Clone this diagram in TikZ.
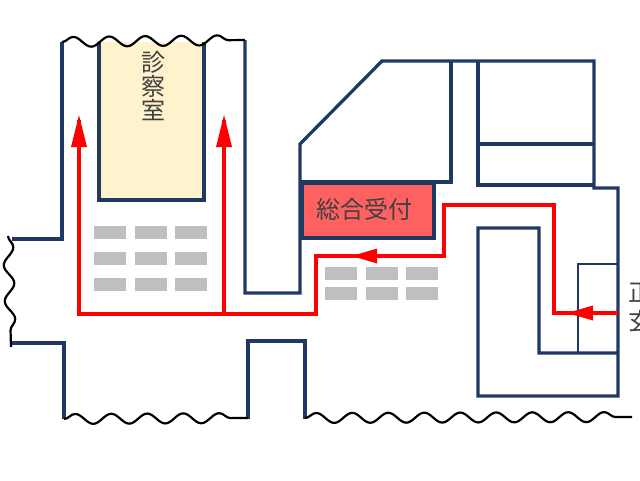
\documentclass[tikz,border=0pt]{standalone}
\usepackage{fontspec}
\newfontfamily\cjk{Noto Sans CJK JP}
\usepackage{xcolor}
\usetikzlibrary{matrix,decorations.pathmorphing,positioning}
\definecolor{wallblue}{HTML}{1F3864}
\definecolor{roomcream}{HTML}{FFF2CC}
\definecolor{deskred}{HTML}{FF6161}
\definecolor{seatgray}{HTML}{BFBFBF}
\definecolor{labelgray}{HTML}{404040}
\tikzset{
    wallsty/.style={draw=wallblue,line width=3.3pt,line join=miter},
    thinwallsty/.style={draw=wallblue,line width=1.6pt},
    wavesty/.style={draw=black,line width=2.2pt,decorate,decoration={snake,segment length=36pt,amplitude=5pt}},
    routesty/.style={draw=red,line width=3.3pt},
    seatsty/.style={fill=seatgray,rectangle,minimum width=32pt,minimum height=13pt,inner sep=0pt,outer sep=0pt},
    labelsty/.style={font=\cjk\fontsize{24pt}{24pt}\selectfont,text=labelgray,inner sep=0pt},
}
\begin{document}
\begin{tikzpicture}[x=1pt,y=-1pt]
\useasboundingbox (0,0) rectangle (640,480);
\clip (0,0) rectangle (640,480);

% rooms
\node (exam) [fill=roomcream,rectangle,anchor=north west,minimum width=105pt,minimum height=158pt,outer sep=0pt,inner sep=0pt] at (99,42) {};
\node (desk) [wallsty,fill=deskred,rectangle,anchor=north west,minimum width=132pt,minimum height=55pt,outer sep=0pt,inner sep=0pt] at (302,183) {};
\node (desktext) [labelsty] at (364,209) {総合受付};
\node (examtext) [labelsty,align=center] at (153,86) {診\\[0pt]察\\[0pt]室};
\draw[wallsty] (exam.north west) -- (exam.south west) -- (exam.south east) -- (exam.north east);

% seats
\matrix (seatsA) [matrix of nodes,nodes in empty cells,nodes={seatsty},
            column sep=8.5pt,row sep=13pt,inner sep=0pt,outer sep=0pt,
            ampersand replacement=\&,anchor=north west] at (94,226)
{
\& \& \\
\& \& \\
\& \& \\
};
\matrix (seatsB) [matrix of nodes,nodes in empty cells,nodes={seatsty},
            column sep=8.5pt,row sep=7pt,inner sep=0pt,outer sep=0pt,
            ampersand replacement=\&,anchor=north west] at (325,267)
{
\& \& \\
\& \& \\
};

% walls
\draw[wallsty] (62,42) -- (62,239) -- (12,239);
\draw[wallsty] (245,40) -- (245,293) -- (300,293) -- (300,144) -- (382,61) -- (594,61) -- (594,188) -- (618,188) -- (618,396) -- (478,396) -- (478,228) -- (539,228) -- (539,353) -- (618,353);
\draw[wallsty] (451,61) -- (451,182) -- (300,182);
\draw[wallsty] (478,61) -- (478,185) -- (594,185);
\draw[wallsty] (478,144) -- (594,144);
\draw[wallsty] (12,343) -- (64,343) -- (64,419);
\draw[wallsty] (248,419) -- (248,341) -- (305,341) -- (305,419);
\draw[thinwallsty] (578,353) -- (578,264) -- (618,264);

% broken edges
\draw[wavesty] (62,42) -- (245,40);
\draw[wavesty] (64,419) -- (248,418);
\draw[wavesty] (305,418) -- (632,417);
\draw[wavesty] (8,236) -- (11,347);

% route
\coordinate (door) at (618,313);
\coordinate (join) at (224,314);
\draw[routesty,line join=miter] (door) -- (554,313) -- (554,205) -- (444,205) -- (444,256) -- (316,256) -- (316,314) -- (79,314) -- (79,120);
\draw[routesty] (join) -- (224,120);
\fill[red] (79,115) -- (71,147) -- (87,147) -- cycle;
\fill[red] (224,115) -- (216,147) -- (232,147) -- cycle;
\fill[red] (352,256) -- (377,248.5) -- (377,263.5) -- cycle;
\fill[red] (567,313) -- (593,305.5) -- (593,320.5) -- cycle;

% entrance
\node (door1) [labelsty,anchor=west] at (628,293) {正};
\node (door2) [labelsty,anchor=west] at (628,321) {玄};
\end{tikzpicture}
\end{document}
